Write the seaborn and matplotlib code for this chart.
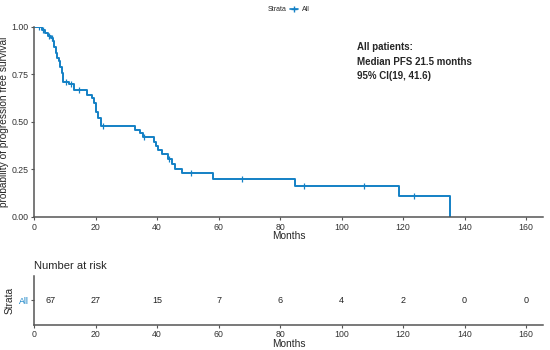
import numpy as np
import pandas as pd
import matplotlib
matplotlib.use('Agg')
import matplotlib.pyplot as plt
from matplotlib.lines import Line2D
import seaborn as sns

sns.set_style('ticks')
plt.rcParams['font.family'] = ['Liberation Sans', 'DejaVu Sans']

# Kaplan-Meier step curve (months, survival)
km_time = [0, 2.5, 3.5, 4.5, 5.5, 6.2, 6.6, 7.0, 7.5, 8.0, 8.6, 9.0, 9.4, 11.5, 13.0,
           17.3, 18.8, 19.5, 20.2, 20.9, 21.7, 32.8, 34.5, 35.4, 39.1, 39.7, 40.2,
           41.6, 43.5, 44.8, 45.9, 48.0, 58.3, 84.9, 118.7, 135.3]
km_surv = [1.00, 0.985, 0.97, 0.955, 0.94, 0.925, 0.895, 0.865, 0.835, 0.82, 0.79, 0.76,
           0.71, 0.70, 0.67, 0.64, 0.625, 0.60, 0.555, 0.52, 0.48, 0.46, 0.44, 0.42,
           0.395, 0.375, 0.35, 0.33, 0.305, 0.28, 0.255, 0.23, 0.20, 0.165, 0.11, 0.0]
# censored observations
censor_time = [1.5, 3.0, 5.0, 6.0, 10.5, 12.0, 14.5, 22.5, 35.8, 44.0, 51.0, 67.7,
               87.8, 107.3, 123.6]
# number at risk
risk_time = [0, 20, 40, 60, 80, 100, 120, 140, 160]
risk_n = [67, 27, 15, 7, 6, 4, 2, 0, 0]

blue = '#1380c5'
spine = '#555555'

km = pd.DataFrame({'time': km_time, 'surv': km_surv})
idx = np.searchsorted(km_time, censor_time, side='right') - 1
cens = pd.DataFrame({'time': censor_time, 'surv': np.array(km_surv)[idx]})

fig = plt.figure(figsize=(5.5, 3.5), dpi=100)
ax1 = fig.add_axes([0.0618, 0.38, 0.9255, 0.543])
ax2 = fig.add_axes([0.0618, 0.072, 0.9255, 0.14])

sns.lineplot(data=km, x='time', y='surv', drawstyle='steps-post', color=blue,
             lw=1.4, ax=ax1, sort=False)
sns.scatterplot(data=cens, x='time', y='surv', marker='|', s=22, color=blue,
                linewidth=0.9, ax=ax1)

for ax in (ax1, ax2):
    ax.set_xlim(0, 165.5)
    ax.set_xticks(risk_time)
    sns.despine(ax=ax)
    for s in ('left', 'bottom'):
        ax.spines[s].set_color(spine)
        ax.spines[s].set_linewidth(1.1)
    ax.tick_params(length=2.5, width=0.8, color=spine, labelsize=6.3,
                   labelcolor='#333333', pad=1.5)

ax1.set_ylim(0, 1)
ax1.set_yticks([0, 0.25, 0.5, 0.75, 1.0])
ax1.set_yticklabels(['0.00', '0.25', '0.50', '0.75', '1.00'])
ax1.set_xlabel('Months', fontsize=7.3, labelpad=-0.5)
ax1.set_ylabel('probability of progression free survival', fontsize=7.3, labelpad=2)

ax1.text(105, 0.92, 'All patients:\nMedian PFS 21.5 months\n95% CI(19, 41.6)',
         fontsize=7, fontweight='bold', va='top', ha='left', linespacing=1.55)

# risk table
ax2.set_ylim(-0.5, 0.5)
ax2.set_yticks([0])
ax2.set_yticklabels(['All'], color=blue)
for t, n in zip(risk_time, risk_n):
    ax2.text(max(t, 5.5), 0, str(n), ha='center', va='center', fontsize=6.5,
             color='#222222')
ax2.set_xlabel('Months', fontsize=7.3, labelpad=0)
ax2.set_ylabel('Strata', fontsize=7.3, labelpad=3)
ax2.set_title('Number at risk', loc='left', fontsize=8, pad=5)

# legend
fig.text(0.487, 0.972, 'Strata', fontsize=5, va='center', ha='left')
h = Line2D([], [], color=blue, marker='+', markersize=5, lw=1.2)
fig.legend([h], ['All'], loc='center left', bbox_to_anchor=(0.527, 0.972),
           frameon=False, fontsize=5, handlelength=1.2, handletextpad=0.5,
           borderpad=0, borderaxespad=0)

fig.savefig('out.png', dpi=100)
